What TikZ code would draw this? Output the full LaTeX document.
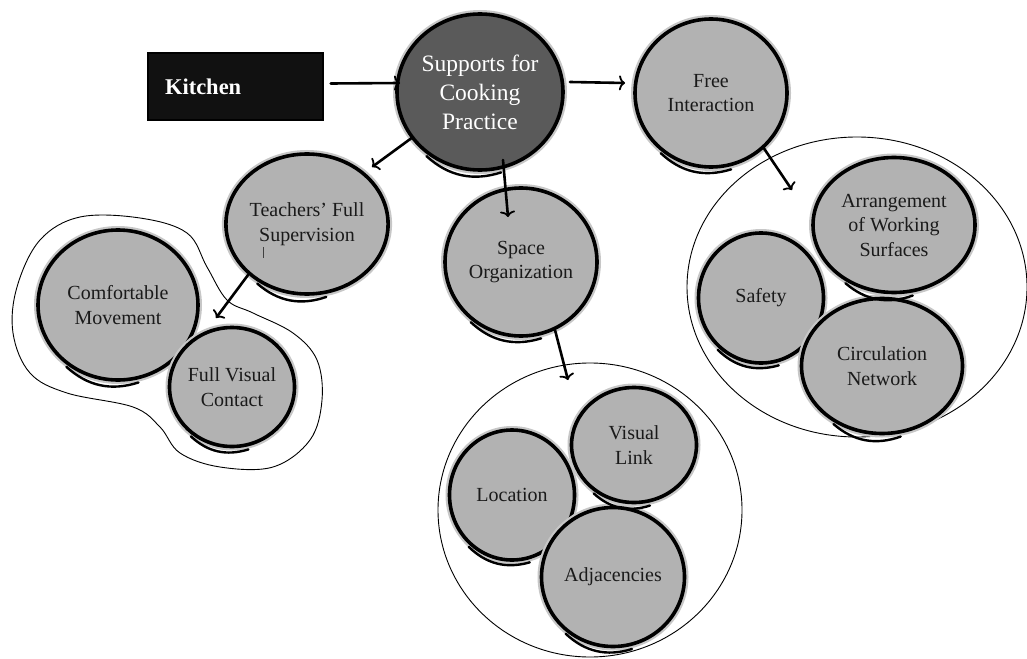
\documentclass[tikz,border=0pt]{standalone}
\usepackage{fontspec}
\setmainfont{Liberation Serif}
\usetikzlibrary{shapes.geometric,arrows.meta,calc}

\definecolor{bubgray}{HTML}{B2B2B2}
\definecolor{supgray}{HTML}{5A5A5A}
\definecolor{kblack}{HTML}{111111}
\definecolor{textdark}{HTML}{1A1A1A}

\tikzset{
  bub/.style={ellipse, inner sep=0pt, fill=bubgray, draw=black, line width=3.6pt,
    preaction={draw=black!22, line width=8pt},
    text=textdark, font=\fontsize{20}{24.5}\selectfont, align=center},
  tail/.style={draw=black, line width=2.4pt, line cap=round},
  grp/.style={ellipse, inner sep=0pt, draw=black, line width=0.9pt},
  grpline/.style={draw=black, line width=0.9pt},
  kbox/.style={rectangle, fill=kblack, draw=black, line width=1.5pt,
    text=white, font=\fontsize{22.5}{27}\selectfont\bfseries,
    minimum height=67pt, text width=141pt, inner xsep=17pt, align=left},
  arr/.style={draw=black, line width=2.6pt, line cap=round,
    -{To[length=6pt,width=15pt,line width=1.8pt]}},
}

\begin{document}
\begin{tikzpicture}[x=1pt,y=-1pt]
\useasboundingbox (0,0) rectangle (1027,658);

% outlines that gather the sub-topics
\node[grp, minimum width=304pt, minimum height=294pt] (grpB) at (590,510) {};
\node[grp, minimum width=340pt, minimum height=300pt] (grpR) at (857,287) {};
\draw[grpline] plot[smooth cycle, tension=0.6] coordinates {
  (80,217) (140,218) (187,233) (207,267) (227,300) (253,313) (293,333)
  (317,360) (322,400) (310,440) (273,467) (220,467) (180,453) (160,427)
  (133,407) (67,393) (30,373) (13,333) (17,287) (40,240)};

% main nodes
\node[kbox] (kitchen) at (235.5,86.5) {Kitchen};
\node[bub, fill=supgray, text=white, font=\fontsize{23.5}{29}\selectfont,
      minimum width=166pt, minimum height=156pt] (sup) at (480,92)
      {Supports for\\Cooking\\Practice};
\node[bub, minimum width=152pt, minimum height=148pt] (free) at (711,93) {Free\\Interaction};
\node[bub, minimum width=147pt, minimum height=140pt] (teach) at (307,224) {Teachers’ Full\\Supervision};
\node[bub, minimum width=152pt, minimum height=148pt] (space) at (521,262) {Space\\Organization};

% left group
\node[bub, minimum width=160pt, minimum height=150pt] (comf) at (118,305) {Comfortable\\Movement};
\node[bub, minimum width=125pt, minimum height=119pt] (fvc) at (232,387) {Full Visual\\Contact};

% bottom group
\node[bub, minimum width=125pt, minimum height=130pt] (loc) at (512,495) {Location};
\node[bub, minimum width=125pt, minimum height=115pt] (vis) at (634,445) {Visual\\Link};
\node[bub, minimum width=143pt, minimum height=139pt] (adj) at (613,577) {Adjacencies};

% right group
\node[bub, minimum width=162pt, minimum height=135pt] (arrg) at (894,225) {Arrangement\\of Working\\Surfaces};
\node[bub, minimum width=125pt, minimum height=130pt] (safe) at (761,298) {Safety};
\node[bub, minimum width=161pt, minimum height=135pt] (circ) at (882,366) {Circulation\\Network};

% sketchy second strokes along the lower rims
\foreach \n in {sup,free,teach,space,comf,fvc,loc,vis,adj,arrg,safe,circ}
  \draw[tail] ([shift={(-1,1.5)}]\n.230) to[bend right=30] ([shift={(0.5,3)}]\n.285);

% small pen mark
\draw[line width=1pt, black!75] (263,247) -- (263,258);

% connectors
\draw[arr] ($(kitchen.east)+(7,-3)$) -- ($(sup)+(-80,-9)$);
\draw[arr] ($(sup)+(90,-10)$) -- ($(free)+(-86,-10)$);
\draw[arr] ($(sup)+(-67,45)$) -- ($(teach)+(65,-57)$);
\draw[arr] ($(sup)+(23,68)$) -- ($(space)+(-13,-45)$);
\draw[arr] ($(teach)+(-59,51)$) -- ($(fvc)+(-16,-69)$);
\draw[arr] ($(space)+(34,68)$) -- ($(grpB)+(-22,-130)$);
\draw[arr] ($(free)+(52,54)$) -- ($(grpR)+(-65,-97)$);
\end{tikzpicture}
\end{document}
